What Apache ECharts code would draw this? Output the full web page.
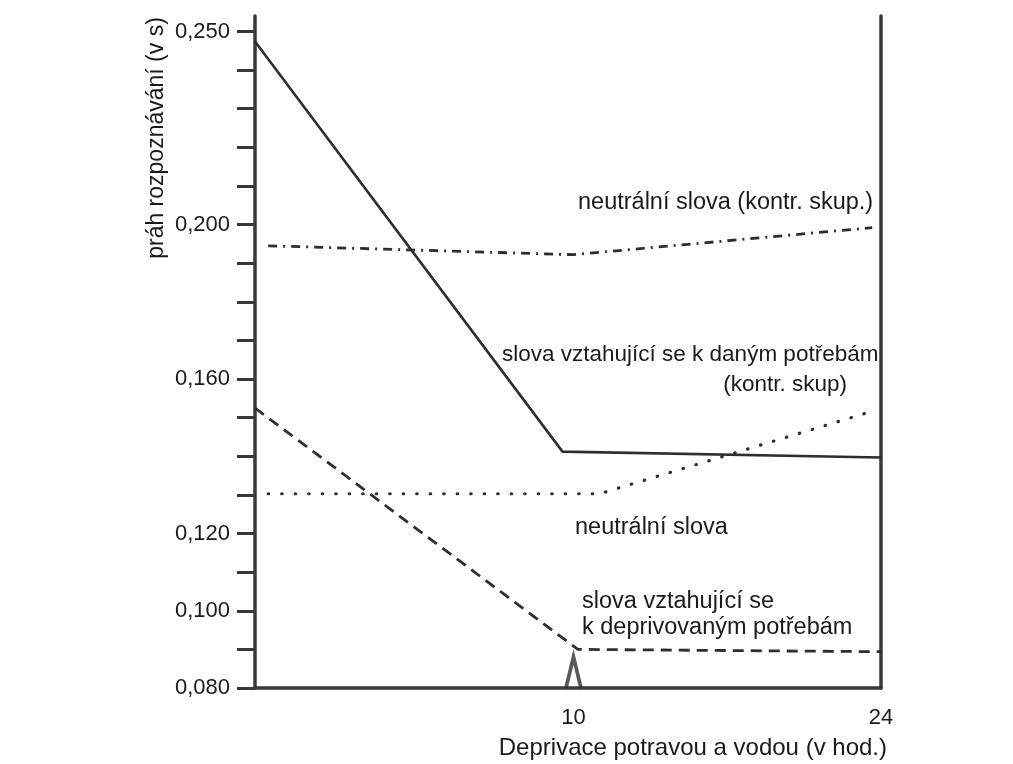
<!DOCTYPE html>
<html>
<head>
<meta charset="utf-8">
<script src="https://cdn.jsdelivr.net/npm/echarts@6/dist/echarts.min.js"></script>
<style>
  html, body { margin: 0; padding: 0; background: #ffffff; }
  #chart { width: 1013px; height: 764px; }
</style>
</head>
<body>
<div id="chart"></div>
<script>
// ---- data ----
// x: hours of food & water deprivation (schematic axis; lines start at the axis origin)
const X_MIN = -4.5;
const X_MAX = 24;
const X_LABELS = [10, 24];
const ARROW_X = [10];

const Y_MIN = 0.08;
const Y_MAX = 0.254;
const Y_LABELS = [0.08, 0.10, 0.12, 0.16, 0.20, 0.25];
const Y_TICKS = [0.08, 0.09, 0.10, 0.11, 0.12, 0.13, 0.14, 0.15, 0.16, 0.17,
                 0.18, 0.19, 0.20, 0.21, 0.22, 0.23, 0.24, 0.25];

// solid: words related to given needs (control group)
const needsControlX = [-4.5, 9.5, 24];
const needsControlY = [0.2474, 0.1412, 0.1397];
// dashed: words related to deprived needs
const needsDeprivedX = [-4.5, 10.2, 24];
const needsDeprivedY = [0.1525, 0.0900, 0.0894];
// dotted: neutral words
const neutralX = [-3.9, 11.2, 23.8];
const neutralY = [0.1303, 0.1303, 0.1520];
// dash-dot: neutral words (control group)
const neutralControlX = [-3.9, 10, 23.6];
const neutralControlY = [0.1945, 0.1922, 0.1992];

// ---- chart ----
const FONT = "'Liberation Sans', Arial, Helvetica, sans-serif";
const INK = '#1a1a1a';
const LINE = '#2e2e2e';
const AXIS = '#383838';

function pairs(xs, ys) { return xs.map((x, i) => [x, ys[i]]); }

const chart = echarts.init(document.getElementById('chart'), null, { renderer: 'canvas' });

const option = {
  animation: false,
  backgroundColor: '#ffffff',
  grid: { left: 255, right: 132, top: 16, bottom: 76, containLabel: false, outerBoundsMode: 'none' },
  xAxis: {
    type: 'value',
    min: X_MIN,
    max: X_MAX,
    axisLine: { show: true, onZero: false, lineStyle: { color: AXIS, width: 3.5 } },
    axisTick: { show: false },
    splitLine: { show: false },
    axisLabel: {
      customValues: X_LABELS,
      margin: 19,
      color: INK,
      fontSize: 22,
      fontFamily: FONT,
      formatter: v => String(v)
    }
  },
  yAxis: [
    {
      type: 'value',
      min: Y_MIN,
      max: Y_MAX,
      position: 'left',
      axisLine: { show: true, onZero: false, lineStyle: { color: AXIS, width: 3.5 } },
      axisTick: { show: true, customValues: Y_TICKS, inside: false, length: 18, lineStyle: { color: AXIS, width: 3 } },
      splitLine: { show: false },
      axisLabel: {
        customValues: Y_LABELS,
        margin: 25,
        color: INK,
        fontSize: 22,
        fontFamily: FONT,
        formatter: v => v.toFixed(3).replace('.', ',')
      }
    },
    {
      type: 'value',
      min: Y_MIN,
      max: Y_MAX,
      position: 'right',
      axisLine: { show: true, onZero: false, lineStyle: { color: AXIS, width: 3.5 } },
      axisTick: { show: false },
      axisLabel: { show: false },
      splitLine: { show: false }
    }
  ],
  series: [
    {
      name: 'slova vztahující se k daným potřebám (kontr. skup)',
      type: 'line',
      data: pairs(needsControlX, needsControlY),
      symbol: 'none',
      lineStyle: { color: LINE, width: 2.6, type: 'solid' }
    },
    {
      name: 'slova vztahující se k deprivovaným potřebám',
      type: 'line',
      data: pairs(needsDeprivedX, needsDeprivedY),
      symbol: 'none',
      lineStyle: { color: LINE, width: 2.8, type: [11, 7] }
    },
    {
      name: 'neutrální slova',
      type: 'line',
      data: pairs(neutralX, neutralY),
      symbol: 'none',
      lineStyle: { color: LINE, width: 3.2, type: [0.5, 13], cap: 'round' }
    },
    {
      name: 'neutrální slova (kontr. skup.)',
      type: 'line',
      data: pairs(neutralControlX, neutralControlY),
      symbol: 'none',
      lineStyle: { color: LINE, width: 2.8, type: [9, 6, 2, 6] }
    },
    {
      name: 'arrow',
      type: 'scatter',
      data: ARROW_X.map(x => [x, Y_MIN]),
      symbol: 'path://M0,40 L10,0 L20,40',
      symbolSize: [15, 31],
      symbolOffset: [0, '-50%'],
      clip: false,
      itemStyle: { color: 'transparent', borderColor: LINE, borderWidth: 5 },
      silent: true,
      z: 5
    }
  ],
  graphic: [
    { type: 'text', x: 578, y: 203, style: { text: 'neutrální slova (kontr. skup.)', fill: INK, font: '23.5px ' + FONT, textAlign: 'left', textVerticalAlign: 'middle' } },
    { type: 'text', x: 502, y: 355, style: { text: 'slova vztahující se k daným potřebám', fill: INK, font: '22.5px ' + FONT, textAlign: 'left', textVerticalAlign: 'middle' } },
    { type: 'text', x: 847, y: 385, style: { text: '(kontr. skup)', fill: INK, font: '22.5px ' + FONT, textAlign: 'right', textVerticalAlign: 'middle' } },
    { type: 'text', x: 575, y: 528, style: { text: 'neutrální slova', fill: INK, font: '23.5px ' + FONT, textAlign: 'left', textVerticalAlign: 'middle' } },
    { type: 'text', x: 582, y: 602, style: { text: 'slova vztahující se', fill: INK, font: '23.5px ' + FONT, textAlign: 'left', textVerticalAlign: 'middle' } },
    { type: 'text', x: 582, y: 628, style: { text: 'k deprivovaným potřebám', fill: INK, font: '23.5px ' + FONT, textAlign: 'left', textVerticalAlign: 'middle' } },
    { type: 'text', x: 887, y: 748, style: { text: 'Deprivace potravou a vodou (v hod.)', fill: INK, font: '24px ' + FONT, textAlign: 'right', textVerticalAlign: 'middle' } },
    { type: 'text', x: 157, y: 138, rotation: Math.PI / 2, style: { text: 'práh rozpoznávání (v s)', fill: INK, font: '23px ' + FONT, textAlign: 'center', textVerticalAlign: 'middle' } }
  ]
};

chart.setOption(option);
</script>
</body>
</html>
